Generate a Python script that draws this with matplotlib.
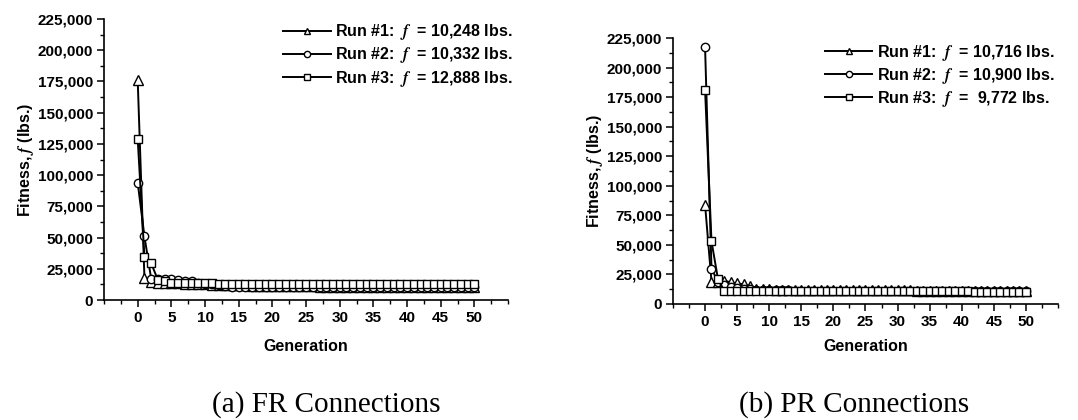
#!/usr/bin/env python
"""Fitness history of three GA runs for FR and PR connection frames."""

import matplotlib

matplotlib.use("Agg")
import matplotlib.pyplot as plt
from matplotlib.ticker import MultipleLocator, StrMethodFormatter

plt.rcParams["font.family"] = ["Liberation Sans", "DejaVu Sans"]
plt.rcParams["font.weight"] = "bold"
plt.rcParams["mathtext.fontset"] = "stix"

# ---- data: fitness (lbs.) per generation 0..50 ----
GENERATIONS = list(range(51))

FR_RUN1 = [
    176000, 18000, 14200, 14000, 13800, 13600, 13400, 13200, 13000, 12800,
    12600, 12400, 12200, 12000, 11900, 11800, 11700, 11600, 11500, 11400,
    11300, 11200, 11100, 11000, 10950, 10900, 10850, 10800, 10750, 10700,
    10650, 10600, 10550, 10500, 10480, 10460, 10440, 10420, 10400, 10380,
    10360, 10340, 10320, 10310, 10300, 10290, 10280, 10270, 10260, 10250,
    10248,
]
FR_RUN2 = [
    94000, 51000, 17000, 16500, 16500, 16800, 15800, 15200, 15000, 13500,
    13000, 12500, 12000, 11000, 10500, 10500, 10500, 10450, 10450, 10450,
    10400, 10400, 10400, 10400, 10400, 10400, 10400, 10400, 10400, 10400,
    10380, 10380, 10380, 10380, 10380, 10360, 10360, 10360, 10360, 10360,
    10350, 10350, 10350, 10350, 10340, 10340, 10340, 10340, 10340, 10335,
    10332,
]
FR_RUN3 = [
    129000, 34500, 29500, 16000, 15500, 14000, 14000, 14000, 13800, 13600,
    13400, 13300, 13200, 13100, 13000, 13000, 13000, 13000, 13000, 13000,
    12950, 12950, 12950, 12950, 12950, 12950, 12950, 12950, 12950, 12950,
    12920, 12920, 12920, 12920, 12920, 12920, 12920, 12920, 12920, 12920,
    12900, 12900, 12900, 12900, 12900, 12900, 12900, 12900, 12900, 12890,
    12888,
]

PR_RUN1 = [
    84000, 19000, 19000, 19700, 18300, 17500, 16600, 15500, 13000, 12500,
    12300, 12200, 12100, 12000, 12000, 12000, 11900, 11900, 11900, 11800,
    11800, 11800, 11800, 11700, 11700, 11700, 11700, 11600, 11600, 11600,
    11500, 11500, 11500, 11400, 11400, 11400, 11300, 11300, 11300, 11200,
    11200, 11200, 11100, 11100, 11000, 11000, 10900, 10900, 10800, 10750,
    10716,
]
PR_RUN2 = [
    217000, 30000, 19000, 16000, 14500, 13500, 12800, 12300, 12000, 11800,
    11700, 11600, 11500, 11500, 11400, 11400, 11400, 11300, 11300, 11300,
    11200, 11200, 11200, 11200, 11100, 11100, 11100, 11100, 11100, 11000,
    11000, 11000, 11000, 11000, 11000, 11000, 10950, 10950, 10950, 10950,
    10950, 10950, 10950, 10950, 10920, 10920, 10920, 10920, 10910, 10900,
    10900,
]
PR_RUN3 = [
    181000, 53000, 21500, 11000, 11000, 11000, 11000, 11000, 11000, 11000,
    11000, 11000, 11000, 11000, 11000, 11000, 11000, 11000, 11000, 11000,
    11000, 11000, 11000, 11000, 11000, 11000, 11000, 11000, 11000, 11000,
    11000, 11000, 11000, 11000, 11000, 11000, 11000, 11000, 11000, 11000,
    10900, 10800, 10300, 10300, 10300, 10300, 10100, 10100, 9900, 9800,
    9772,
]

FR_LABELS = [
    "Run #1:  $f$  = 10,248 lbs.",
    "Run #2:  $f$  = 10,332 lbs.",
    "Run #3:  $f$  = 12,888 lbs.",
]
PR_LABELS = [
    "Run #1:  $f$  = 10,716 lbs.",
    "Run #2:  $f$  = 10,900 lbs.",
    "Run #3:  $f$  =  9,772 lbs.",
]
CAPTIONS = ["(a) FR Connections", "(b) PR Connections"]

MARKERS = [("^", 6.5), ("o", 6), ("s", 5.5)]


def draw_panel(ax, series, labels, legend_anchor, xlabelpad):
    for ys, label, (mk, ms) in zip(series, labels, MARKERS):
        ax.plot(
            GENERATIONS, ys,
            color="black", linewidth=1.4,
            marker=mk, markersize=ms,
            markerfacecolor="white", markeredgecolor="black", markeredgewidth=1.0,
            label=label,
        )

    ax.set_xlim(-5, 55)
    ax.set_ylim(0, 225000)
    ax.xaxis.set_major_locator(MultipleLocator(5))
    ax.xaxis.set_minor_locator(MultipleLocator(2.5))
    ax.yaxis.set_major_locator(MultipleLocator(25000))
    ax.yaxis.set_minor_locator(MultipleLocator(12500))
    ax.yaxis.set_major_formatter(StrMethodFormatter("{x:,.0f}"))
    ax.set_xticks(list(range(0, 51, 5)))

    for side in ("top", "right"):
        ax.spines[side].set_visible(False)
    for side in ("left", "bottom"):
        ax.spines[side].set_linewidth(1.2)

    ax.tick_params(which="major", direction="out", length=5, width=1.1,
                   labelsize=11, pad=3)
    ax.tick_params(which="minor", direction="out", length=3, width=1.0)

    ax.set_xlabel("Generation", fontsize=11.5, fontweight="bold",
                  labelpad=xlabelpad)
    ax.set_ylabel("Fitness, $f$ (lbs.)", fontsize=11.5, fontweight="bold",
                  labelpad=1)

    ax.legend(
        loc="upper right", bbox_to_anchor=legend_anchor, frameon=False,
        fontsize=11.5, handlelength=3.0, handletextpad=0.3, markerscale=0.75,
        labelspacing=0.2, borderpad=0.2, borderaxespad=0.0,
    )


def main():
    fig = plt.figure(figsize=(10.78, 4.2), dpi=100)
    ax_fr = fig.add_axes([0.0965, 0.2857, 0.3748, 0.669])
    ax_pr = fig.add_axes([0.6243, 0.2762, 0.3571, 0.6333])

    draw_panel(ax_fr, [FR_RUN1, FR_RUN2, FR_RUN3], FR_LABELS, (1.02, 1.0), 10)
    draw_panel(ax_pr, [PR_RUN1, PR_RUN2, PR_RUN3], PR_LABELS, (1.0, 0.995), 7)

    for x, caption in zip([0.303, 0.792], CAPTIONS):
        fig.text(x, 1 - 405 / 420, caption, ha="center", va="center",
                 family="Liberation Serif", fontweight="normal", fontsize=21)

    fig.savefig("out.png", dpi=100)
    plt.close(fig)


if __name__ == "__main__":
    main()
